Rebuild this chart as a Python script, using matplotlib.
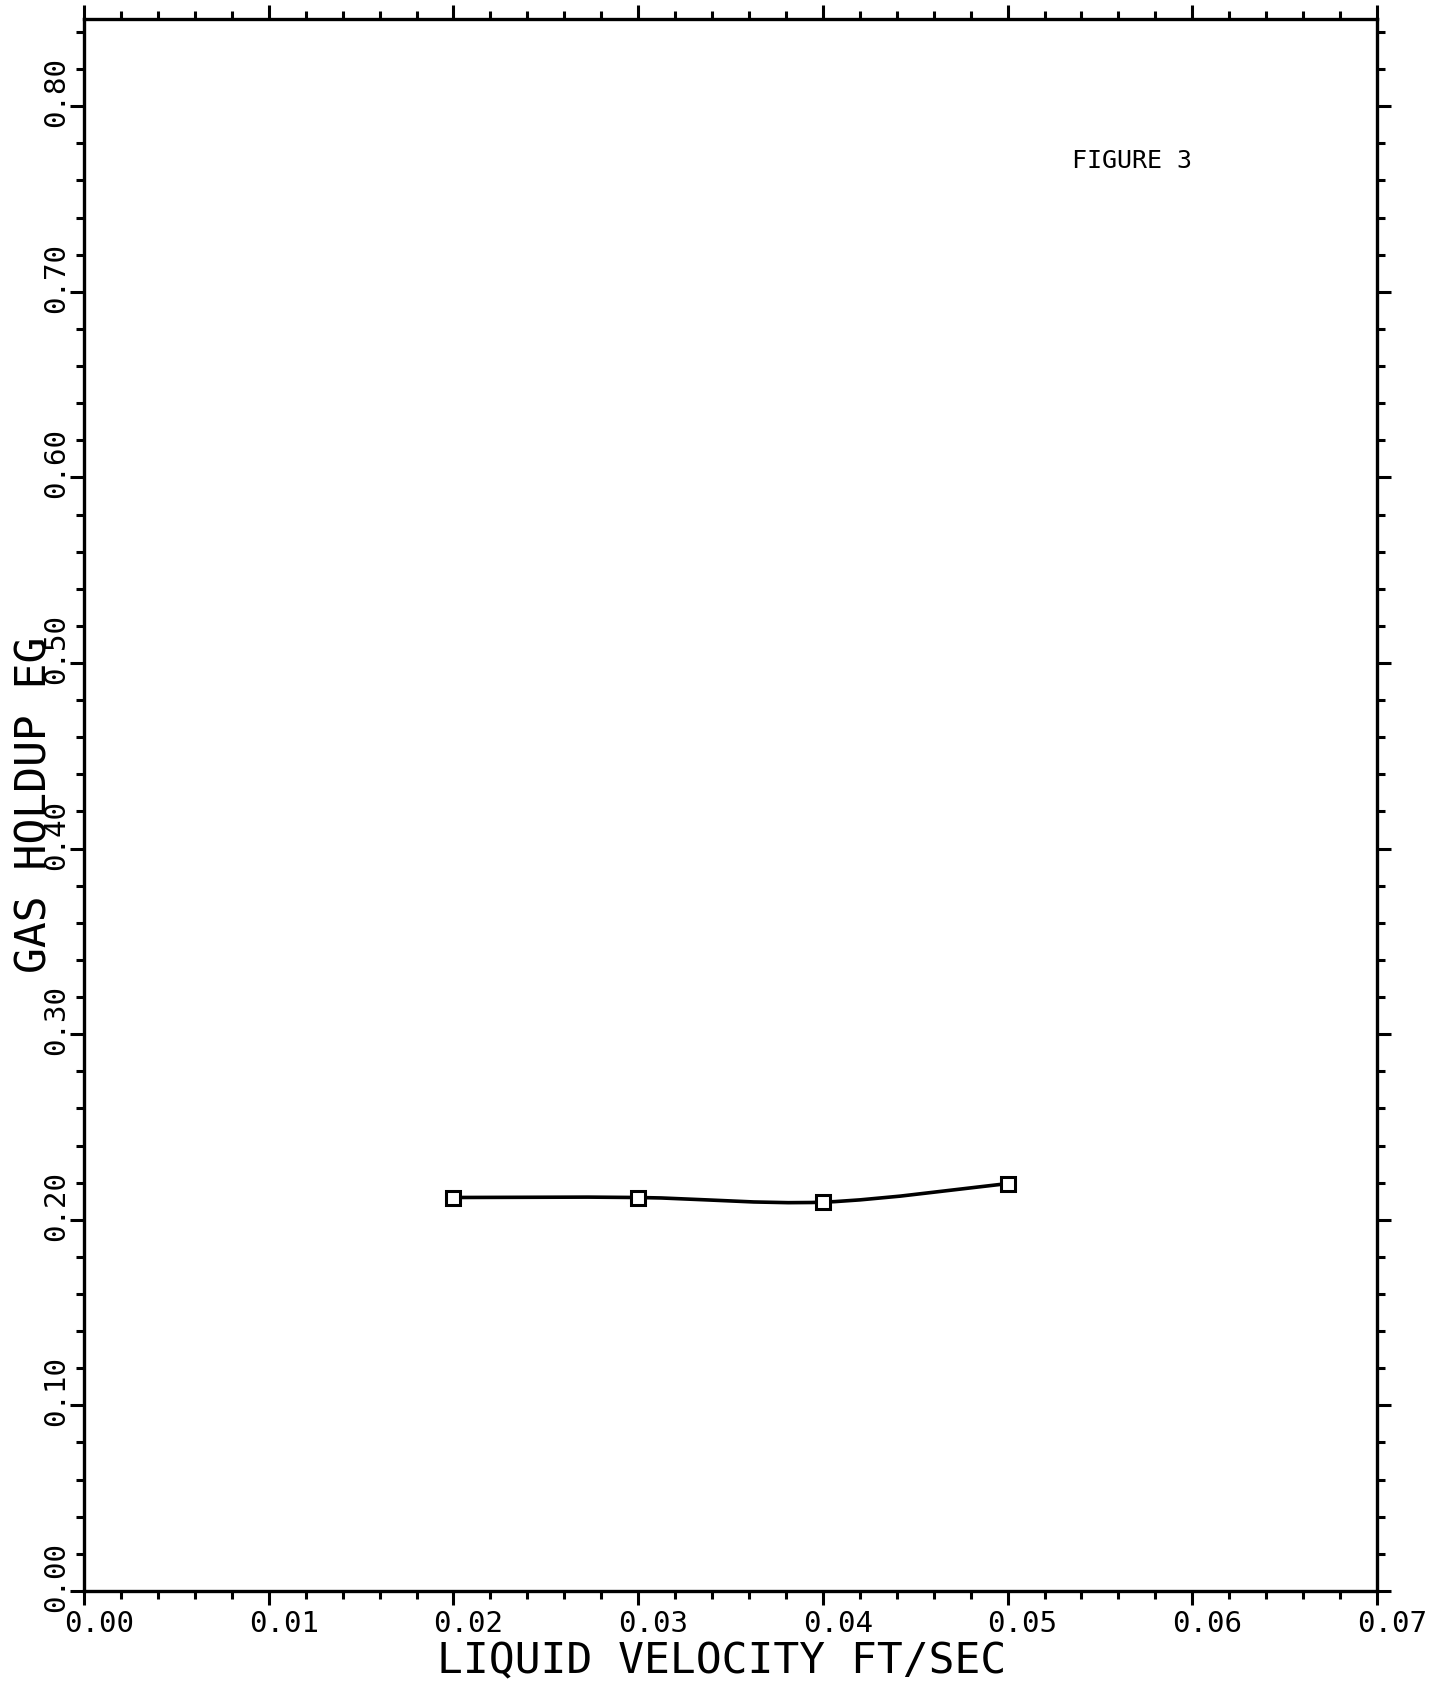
import numpy as np
import matplotlib.pyplot as plt
import matplotlib.transforms as mtransforms
from matplotlib.path import Path
from matplotlib.patches import PathPatch

velocity = [0.02, 0.03, 0.04, 0.05]
holdup = [0.212, 0.212, 0.2095, 0.2195]

x_ticks = [0.00, 0.01, 0.02, 0.03, 0.04, 0.05, 0.06, 0.07]
x_labels = ["0.00", "0.01", "0.02", "0.03", "0.04", "0.05", "0.06", "0.07"]
y_ticks = [0.00, 0.10, 0.20, 0.30, 0.40, 0.50, 0.60, 0.70, 0.80]
y_labels = ["0.00", "0.10", "0.20", "0.30", "0.40", "0.50", "0.60", "0.70", "0.80"]

FONT = "DejaVu Sans Mono"


def smooth_path(xs, ys):
    # Catmull-Rom through the points, drawn as cubic Bezier segments
    pts = np.column_stack([xs, ys])
    verts = [pts[0]]
    codes = [Path.MOVETO]
    n = len(pts)
    for i in range(n - 1):
        p0 = pts[max(i - 1, 0)]
        p1 = pts[i]
        p2 = pts[i + 1]
        p3 = pts[min(i + 2, n - 1)]
        c1 = p1 + (p2 - p0) / 6.0
        c2 = p2 - (p3 - p1) / 6.0
        verts += [c1, c2, p2]
        codes += [Path.CURVE4] * 3
    return Path(verts, codes)


fig = plt.figure(figsize=(14.44, 16.83), dpi=100)
ax = fig.add_axes([0.0582, 0.0541, 0.8954, 0.934])

ax.add_patch(PathPatch(smooth_path(velocity, holdup), facecolor="none",
                       edgecolor="black", lw=2.6, zorder=2))
ax.plot(velocity, holdup, linestyle="none", marker="s", markersize=10,
        markerfacecolor="white", markeredgecolor="black", markeredgewidth=2.2,
        zorder=3)

ax.set_xlim(0, 0.07)
ax.set_ylim(0, 0.847)

ax.set_xticks(x_ticks)
ax.set_xticklabels(x_labels, fontsize=21, family=FONT)
ax.set_xticks(np.arange(0, 0.0701, 0.002), minor=True)
ax.set_yticks(y_ticks)
ax.set_yticklabels(y_labels, fontsize=21, family=FONT, rotation=90, va="center")
ax.set_yticks(np.arange(0, 0.847, 0.02), minor=True)

ax.tick_params(which="both", direction="out", top=True, right=True,
               labeltop=False, labelright=False, width=2.2, color="black")
ax.tick_params(which="major", length=10, pad=3)
ax.tick_params(which="minor", length=5.5)
ax.tick_params(axis="y", which="major", pad=0)

for s in ax.spines.values():
    s.set_linewidth(2.4)

# shift labels like the plotter did
dx = mtransforms.ScaledTranslation(0.15, 0, fig.dpi_scale_trans)
for lab in ax.get_xticklabels():
    lab.set_transform(lab.get_transform() + dx)
dy = mtransforms.ScaledTranslation(0, 0.15, fig.dpi_scale_trans)
for lab in ax.get_yticklabels():
    lab.set_transform(lab.get_transform() + dy)

ax.set_xlabel("LIQUID VELOCITY FT/SEC", fontsize=31, family=FONT, va="center")
ax.xaxis.set_label_coords(0.493, -0.044)
ax.set_ylabel("GAS HOLDUP EG", fontsize=31, family=FONT, va="center")
ax.yaxis.set_label_coords(-0.0387, 0.5006)

ax.text(0.0535, 0.771, "FIGURE 3", fontsize=18, family=FONT, va="center", ha="left")

fig.savefig("out.png", dpi=100)
